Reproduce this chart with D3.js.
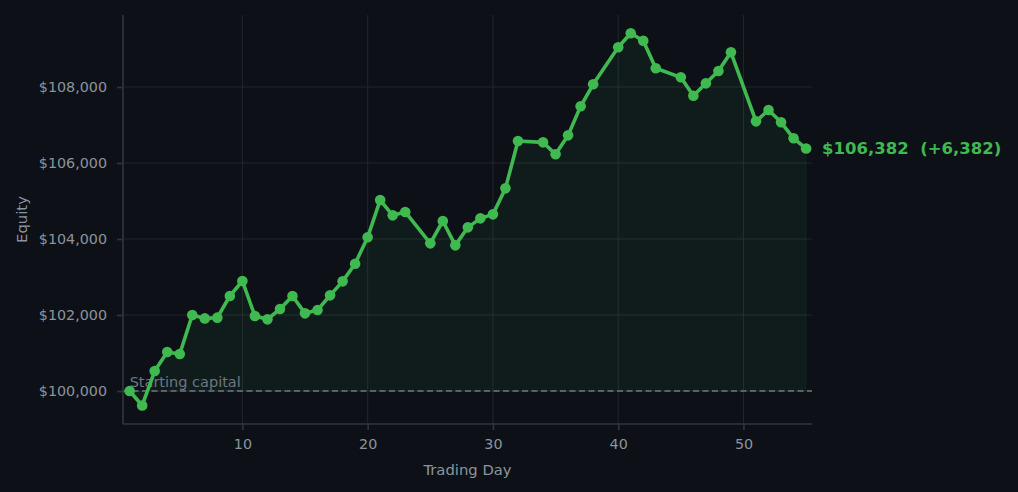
<!DOCTYPE html>
<html>
<head>
<meta charset="utf-8">
<script src="https://cdn.jsdelivr.net/npm/d3@7"></script>
<style>
  html, body { margin: 0; padding: 0; background: #0d1117; }
  svg { display: block; font-family: "DejaVu Sans", sans-serif; }
</style>
</head>
<body>
<script>
// equity curve, one point per trading day (some days have no record)
const days = [1, 2, 3, 4, 5, 6, 7, 8, 9, 10, 11, 12, 13, 14, 15, 16, 17, 18, 19, 20,
  21, 22, 23, 25, 26, 27, 28, 29, 30, 31, 32, 34, 35, 36, 37, 38, 40, 41, 42, 43,
  45, 46, 47, 48, 49, 51, 52, 53, 54, 55];
const equity = [100000, 99620, 100526, 101026, 100974, 102000, 101911, 101930, 102500, 102895,
  101974, 101886, 102158, 102500, 102044, 102132, 102518, 102886, 103351, 104045,
  105026, 104623, 104711, 103886, 104474, 103833, 104307, 104544, 104649, 105333,
  106579, 106544, 106229, 106728, 107492, 108071, 109045, 109413, 109218, 108492,
  108255, 107771, 108097, 108421, 108913, 107097, 107395, 107071, 106650, 106382];
const startCapital = 100000;
const xTicks = [10, 20, 30, 40, 50];
const yTicks = [100000, 102000, 104000, 106000, 108000];

const data = days.map((d, i) => ({ day: d, value: equity[i] }));

const width = 1018, height = 492;
const m = { left: 123, right: 206, top: 15, bottom: 68 };

const svg = d3.select('body').append('svg')
  .attr('width', width)
  .attr('height', height)
  .style('background-color', '#0d1117');

const x = d3.scaleLinear().domain([0.47, 55.47]).range([m.left, width - m.right]);
const y = d3.scaleLinear().domain([99132, 109895]).range([height - m.bottom, m.top]);

// grid
svg.append('g').selectAll('line')
  .data(xTicks).enter().append('line')
  .attr('x1', d => x(d)).attr('x2', d => x(d))
  .attr('y1', m.top).attr('y2', height - m.bottom)
  .attr('stroke', '#21262d').attr('stroke-width', 1);
svg.append('g').selectAll('line')
  .data(yTicks).enter().append('line')
  .attr('x1', m.left).attr('x2', width - m.right)
  .attr('y1', d => y(d)).attr('y2', d => y(d))
  .attr('stroke', '#21262d').attr('stroke-width', 1);

// area between curve and starting capital
const area = d3.area()
  .x(d => x(d.day))
  .y0(y(startCapital))
  .y1(d => y(d.value));
svg.append('path')
  .datum(data)
  .attr('d', area)
  .attr('fill', '#3fb950')
  .attr('fill-opacity', 0.07)
  .attr('stroke', '#3fb950')
  .attr('stroke-opacity', 0.07);

// starting capital line
svg.append('line')
  .attr('x1', m.left).attr('x2', width - m.right)
  .attr('y1', y(startCapital)).attr('y2', y(startCapital))
  .attr('stroke', '#6e7681')
  .attr('stroke-width', 1.6)
  .attr('stroke-dasharray', '6,3.5');
svg.append('text')
  .attr('x', x(1))
  .attr('y', y(startCapital) - 4)
  .attr('fill', '#6e7681')
  .style('font-size', '14.5px')
  .text('Starting capital');

// axes
const xAxis = d3.axisBottom(x).tickValues(xTicks).tickSize(6).tickPadding(9);
const yAxis = d3.axisLeft(y).tickValues(yTicks).tickSize(6).tickPadding(10)
  .tickFormat(d => '$' + d3.format(',')(d));

const gx = svg.append('g')
  .attr('transform', `translate(0,${height - m.bottom})`)
  .call(xAxis);
const gy = svg.append('g')
  .attr('transform', `translate(${m.left},0)`)
  .call(yAxis);

[gx, gy].forEach(g => {
  g.select('.domain').attr('stroke', '#30363d').attr('stroke-width', 1.6);
  g.selectAll('.tick line').attr('stroke', '#30363d').attr('stroke-width', 1.6);
  g.selectAll('.tick text')
    .attr('fill', '#8b949e')
    .style('font-size', '14.3px')
    .style('font-family', '"DejaVu Sans", sans-serif');
});
gx.select('.domain').attr('d', `M${m.left},0H${width - m.right}`);
gy.select('.domain').attr('d', `M0,${m.top}V${height - m.bottom}`);

svg.append('text')
  .attr('x', (m.left + width - m.right) / 2)
  .attr('y', 475)
  .attr('text-anchor', 'middle')
  .attr('fill', '#8b949e')
  .style('font-size', '14.8px')
  .text('Trading Day');
svg.append('text')
  .attr('transform', `translate(27,${(m.top + height - m.bottom) / 2}) rotate(-90)`)
  .attr('text-anchor', 'middle')
  .attr('fill', '#8b949e')
  .style('font-size', '14.8px')
  .text('Equity');

// equity line and markers
const line = d3.line().x(d => x(d.day)).y(d => y(d.value));
svg.append('path')
  .datum(data)
  .attr('d', line)
  .attr('fill', 'none')
  .attr('stroke', '#3fb950')
  .attr('stroke-width', 3.6)
  .attr('stroke-linejoin', 'round');

svg.append('g').selectAll('circle')
  .data(data).enter().append('circle')
  .attr('cx', d => x(d.day))
  .attr('cy', d => y(d.value))
  .attr('r', 5.3)
  .attr('fill', '#3fb950');

// final value label
const last = data[data.length - 1];
svg.append('text')
  .attr('x', x(last.day) + 16)
  .attr('y', y(last.value))
  .attr('dy', '0.35em')
  .attr('fill', '#3fb950')
  .style('font-size', '16.5px')
  .style('font-weight', 'bold')
  .style('white-space', 'pre')
  .text('$' + d3.format(',')(last.value) + '  (+' + d3.format(',')(last.value - startCapital) + ')');
</script>
</body>
</html>
